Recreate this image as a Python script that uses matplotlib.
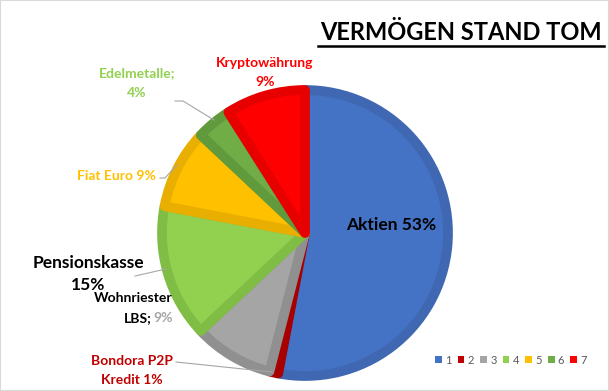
import matplotlib
matplotlib.use('Agg')
from matplotlib import pyplot as plt

# Anteile in Prozent, im Uhrzeigersinn ab 12 Uhr
werte = [53, 1, 9, 15, 9, 4, 9]
legende = ['1', '2', '3', '4', '5', '6', '7']
farben = ['#4472C4', '#C00000', '#A5A5A5', '#92D050', '#FFC000', '#70AD47', '#FF0000']
raender = ['#3F67B2', '#A80000', '#909090', '#80BD45', '#E8AE00', '#609A3D', '#E60000']

plt.rcParams['font.family'] = ['Lato', 'DejaVu Sans']

fig = plt.figure(figsize=(6.09, 3.91), dpi=100)
ax = fig.add_axes([0, 0, 1, 1])

H = 391
cx, cy, r = 305, H - 233, 143

wedges, _ = ax.pie(werte, colors=farben, startangle=90, counterclock=False,
                   center=(cx, cy), radius=r, frame=True,
                   wedgeprops=dict(linewidth=7, joinstyle='round'))
# dunklerer Rand nur innerhalb des eigenen Stuecks
for w, c in zip(wedges, raender):
    w.set_edgecolor(c)
    w.set_clip_path(w)

ax.set_xlim(0, 609)
ax.set_ylim(0, 391)
ax.set_aspect('equal')
ax.axis('off')

# Titel
ax.text(461, H - 33, 'VERMÖGEN STAND TOM', ha='center', va='center',
        fontsize=17, fontweight='bold', color='black')
ax.plot([318, 604], [H - 46, H - 46], color='black', lw=1.8)

# Beschriftungen
ax.text(391, H - 225, 'Aktien 53%', ha='center', va='center', fontsize=12.5,
        fontweight='bold', color='black')
ax.text(265, H - 63, 'Kryptowährung', ha='center', va='center', fontsize=10,
        fontweight='bold', color='#FF0000')
ax.text(265, H - 82, '9%', ha='center', va='center', fontsize=10,
        fontweight='bold', color='#FF0000')
ax.text(137, H - 73, 'Edelmetalle;', ha='center', va='center', fontsize=10,
        fontweight='bold', color='#92D050')
ax.text(137, H - 93, '4%', ha='center', va='center', fontsize=10,
        fontweight='bold', color='#92D050')
ax.plot([175, 183, 214], [H - 101, H - 101, H - 120], color='#A6A6A6', lw=0.8)
ax.text(116, H - 176, 'Fiat Euro 9%', ha='center', va='center', fontsize=10,
        fontweight='bold', color='#FFC000')
ax.plot([160, 165, 177], [H - 178, H - 178, H - 165], color='#A6A6A6', lw=0.8)
ax.text(88, H - 263, 'Pensionskasse', ha='center', va='center', fontsize=12.5,
        fontweight='bold', color='black')
ax.text(88, H - 285, '15%', ha='center', va='center', fontsize=12.5,
        fontweight='bold', color='black')
ax.plot([135, 166], [H - 276, H - 269], color='#A6A6A6', lw=0.8)
ax.text(173, H - 298, 'Wohnriester', ha='right', va='center', fontsize=10,
        fontweight='bold', color='black')
ax.text(173, H - 318, '9%', ha='right', va='center', fontsize=10,
        fontweight='bold', color='#A5A5A5')
ax.text(152, H - 318, 'LBS;', ha='right', va='center', fontsize=10,
        fontweight='bold', color='black')
ax.text(132, H - 361, 'Bondora P2P', ha='center', va='center', fontsize=10,
        fontweight='bold', color='#C00000')
ax.text(132, H - 380, 'Kredit 1%', ha='center', va='center', fontsize=10,
        fontweight='bold', color='#C00000')
ax.plot([176, 272], [H - 362, H - 372], color='#A6A6A6', lw=0.8)

leg = ax.legend(wedges, legende, ncol=7, loc='center',
                bbox_to_anchor=(511 / 609, 1 - 360 / 391),
                frameon=False, fontsize=8, handlelength=0.6, handleheight=0.6,
                handletextpad=0.3, columnspacing=0.55, labelcolor='#595959')
for h in leg.legend_handles:
    h.set_linewidth(0)
    h.set_clip_path(None)

# Rahmen
fig.patches.append(plt.Rectangle((0, 0), 1, 1, transform=fig.transFigure,
                                 fill=False, edgecolor='#D9D9D9', lw=1.5))

fig.savefig('out.png', dpi=100)
